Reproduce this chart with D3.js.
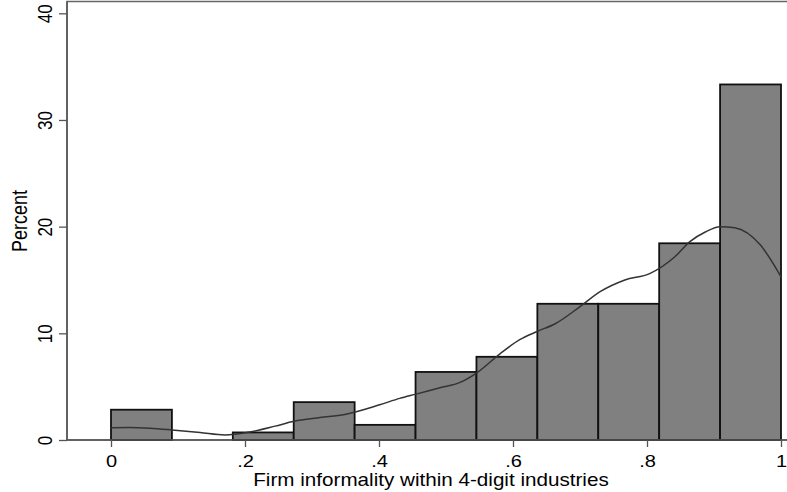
<!DOCTYPE html>
<html>
<head>
<meta charset="utf-8">
<script src="https://cdn.jsdelivr.net/npm/d3@7"></script>
<style>
  body { margin: 0; background: #fff; }
  svg { display: block; font-family: "Liberation Sans", Arial, sans-serif; }
</style>
</head>
<body>
<svg id="chart" width="787" height="492"></svg>
<script>
'use strict';

// histogram: 11 bins of width 1/11 on [0, 1], heights in percent
const binStarts = [0, 1, 2, 3, 4, 5, 6, 7, 8, 9, 10].map(i => i / 11);
const binPercent = [2.84, 0, 0.71, 3.55, 1.42, 6.38, 7.80, 12.77, 12.77, 18.44, 33.33];

// kernel density overlay
const kdeX = [0, 0.028, 0.058, 0.091, 0.133, 0.170, 0.207, 0.245, 0.273, 0.312, 0.349, 0.401,
  0.431, 0.455, 0.491, 0.521, 0.546, 0.581, 0.610, 0.637, 0.663, 0.700, 0.730, 0.767,
  0.804, 0.842, 0.864, 0.887, 0.909, 0.931, 0.969, 1.0];
const kdeY = [1.15, 1.17, 1.1, 0.94, 0.7, 0.47, 0.75, 1.3, 1.75, 2.1, 2.4, 3.3,
  3.9, 4.3, 4.9, 5.4, 6.3, 8.1, 9.4, 10.2, 10.9, 12.5, 13.9, 15.0,
  15.6, 17.2, 18.6, 19.5, 20.0, 19.9, 18.3, 15.3];

const xTicks = [0, 0.2, 0.4, 0.6, 0.8, 1];
const xTickLabels = ['0', '.2', '.4', '.6', '.8', '1'];
const yTicks = [0, 10, 20, 30, 40];

const svg = d3.select('#chart');
const padL = 67, padT = 1.5, padB = 440, padR = 795;
const stretch = 1.18; // the picture is a bit wider than tall, text too

const x = d3.scaleLinear().domain([0, 1]).range([111, 781]);
const y = d3.scaleLinear().domain([0, 40]).range([padB, 13.3]);

// plot frame
svg.append('rect')
  .attr('x', padL).attr('y', padT)
  .attr('width', padR - padL).attr('height', padB - padT)
  .attr('fill', 'none').attr('stroke', '#666').attr('stroke-width', 1.5);

// bars
const bw = 1 / 11;
svg.append('g').selectAll('rect')
  .data(binStarts.map((s, i) => ({ s, v: binPercent[i] })).filter(d => d.v > 0))
  .join('rect')
  .attr('x', d => x(d.s))
  .attr('y', d => y(d.v))
  .attr('width', d => x(d.s + bw) - x(d.s))
  .attr('height', d => y(0) - y(d.v))
  .attr('fill', '#808080')
  .attr('stroke', '#111')
  .attr('stroke-width', 1.8);

// density line
const line = d3.line()
  .x(d => x(d[0]))
  .y(d => y(d[1]))
  .curve(d3.curveMonotoneX);
svg.append('path')
  .datum(kdeX.map((v, i) => [v, kdeY[i]]))
  .attr('d', line)
  .attr('fill', 'none')
  .attr('stroke', '#333')
  .attr('stroke-width', 1.5);

// x axis
const xAxis = svg.append('g')
  .attr('transform', `translate(0,${padB})`)
  .call(d3.axisBottom(x).tickValues(xTicks).tickFormat((d, i) => xTickLabels[i]).tickSize(7).tickPadding(8));
xAxis.select('.domain').attr('stroke', '#555').attr('stroke-width', 1.5).attr('d', `M${padL},0H${padR}`);
xAxis.selectAll('.tick line').attr('stroke', '#555').attr('stroke-width', 1.3);
xAxis.selectAll('.tick text').attr('font-size', 17).attr('fill', '#000')
  .attr('font-family', '"Liberation Sans", Arial, sans-serif')
  .attr('transform', `scale(${stretch},1)`);

// y axis
const yAxis = svg.append('g')
  .attr('transform', `translate(${padL},0)`)
  .call(d3.axisLeft(y).tickValues(yTicks).tickSize(8).tickPadding(0));
yAxis.select('.domain').attr('stroke', '#555').attr('stroke-width', 1.5).attr('d', `M0,${padT}V${padB}`);
yAxis.selectAll('.tick line').attr('stroke', '#555').attr('stroke-width', 1.3);
yAxis.selectAll('.tick text')
  .attr('font-size', 17).attr('fill', '#000')
  .attr('font-family', '"Liberation Sans", Arial, sans-serif')
  .attr('x', null).attr('dy', null)
  .attr('text-anchor', 'middle')
  .attr('transform', `translate(-15,0) scale(${stretch},1) rotate(-90)`);

// axis titles
svg.append('text')
  .attr('transform', `translate(${(padL + padR) / 2},486) scale(${stretch},1)`)
  .attr('text-anchor', 'middle')
  .attr('font-size', 17.5)
  .text('Firm informality within 4-digit industries');

svg.append('text')
  .attr('transform', `translate(27,221) scale(${stretch},1) rotate(-90)`)
  .attr('text-anchor', 'middle')
  .attr('font-size', 18)
  .text('Percent');
</script>
</body>
</html>
